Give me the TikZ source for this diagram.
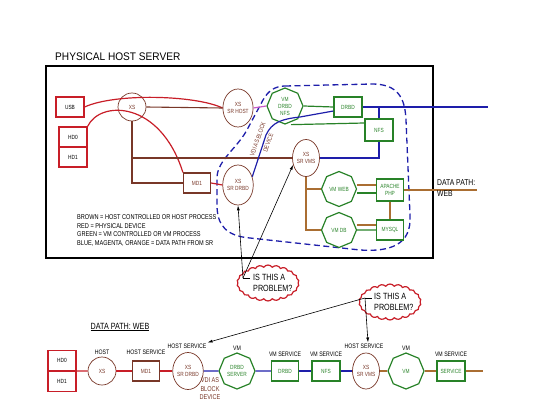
\documentclass[tikz,border=0pt]{standalone}
\usepackage{fontspec}
\setmainfont{Liberation Sans}
\newfontfamily\cond{Liberation Sans}[FakeStretch=0.8]
\newfontfamily\titlef{Liberation Sans}[FakeStretch=0.92]
\usetikzlibrary{shapes.geometric,shapes.symbols,arrows.meta}
\definecolor{cred}{RGB}{200,30,40}
\definecolor{cbrown}{RGB}{120,55,40}
\definecolor{corange}{RGB}{170,110,50}
\definecolor{cgreen}{RGB}{40,130,40}
\definecolor{cblue}{RGB}{30,30,170}
\definecolor{cmag}{RGB}{200,90,200}
\tikzset{
 nbase/.style={inner sep=0pt, font=\cond\fontsize{6}{7}\selectfont, align=center},
 redbox/.style={nbase, draw=cred, line width=1.2pt, minimum width=28pt, minimum height=20pt},
 brbox/.style={nbase, draw=cbrown, line width=1.2pt, minimum width=27pt, minimum height=20pt, text=cbrown},
 grbox/.style={nbase, draw=cgreen, line width=1.2pt, minimum width=28pt, minimum height=20pt, text=cgreen},
 xscirc/.style={nbase, circle, draw=cbrown, line width=0.7pt, minimum size=28pt, text=cbrown},
 xsell/.style={nbase, ellipse, draw=cbrown, line width=0.7pt, minimum width=27pt, minimum height=38pt, text=cbrown},
 oct/.style={nbase, regular polygon, regular polygon sides=8, shape border rotate=22.5, draw=cgreen, line width=1.2pt, minimum size=36pt, text=cgreen},
 lbl/.style={inner sep=0pt, font=\cond\fontsize{6.5}{7.5}\selectfont},
 redline/.style={draw=cred, line width=1.2pt},
 brline/.style={draw=cbrown, line width=1.1pt},
 orline/.style={draw=corange, line width=1.2pt},
 grline/.style={draw=cgreen, line width=1.2pt},
 blline/.style={draw=cblue, line width=1.2pt},
 magline/.style={draw=cmag, line width=1.2pt},
 dashline/.style={draw=cblue, line width=1.3pt, dash pattern=on 6pt off 3.5pt},
 arrline/.style={draw=black, line width=0.6pt, -{Latex[length=5pt,width=3pt]}},
 cloudst/.style={cloud, cloud puffs=22, cloud puff arc=110, cloud ignores aspect, draw=cred, line width=1.2pt, minimum width=62pt, minimum height=36pt, inner sep=0pt},
 qtext/.style={inner sep=0pt, align=left, font=\cond\fontsize{9}{10.5}\selectfont},
}
\begin{document}
\begin{tikzpicture}[x=1pt,y=-1pt]
\useasboundingbox (0,0) rectangle (540,417);
% title and frame
\node[anchor=base west, inner sep=0pt, font=\titlef\fontsize{11}{13}\selectfont] (title) at (55,61) {PHYSICAL HOST SERVER};
\node[draw=black, line width=1.6pt, minimum width=387pt, minimum height=192pt, inner sep=0pt] (host) at (239.5,162) {};

% dashed VM region
\draw[dashline] (285,86) -- (372,84) .. controls (398,84) and (405,98) .. (406,120) -- (410,215) .. controls (412,245) and (390,252) .. (360,250) -- (250,238) .. controls (226,236) and (217,225) .. (217,205) -- (217,178) .. controls (217,160) and (238,148) .. (248,128) -- (263,100) .. controls (268,91) and (275,86) .. (285,86);

% top nodes
\node[redbox] (usb) at (70,107) {\color{black}USB};
\node[redbox] (hd0) at (73,137) {\color{black}HD0};
\node[redbox] (hd1) at (73,157) {\color{black}HD1};
\node[xscirc] (xs) at (132,107) {XS};
\node[brbox] (md1) at (197,183) {MD1};
\node[xsell] (srhost) at (238,108) {XS\\SR HOST};
\node[xsell, minimum height=40pt] (srdrbd) at (238,185) {XS\\SR DRBD};
\node[xsell, minimum height=37pt] (srvms) at (306,158) {XS\\SR VMS};
\node[oct] (vmdrbd) at (285,106) {VM\\DRBD\\NFS};
\node[grbox] (drbd) at (348,107) {DRBD};
\node[grbox, minimum height=22pt] (nfs) at (379,130) {NFS};
\node[oct, minimum size=35pt] (vmweb) at (339,189) {VM WEB};
\node[oct, minimum size=35pt] (vmdb) at (339,230) {VM DB};
\node[grbox, minimum width=27pt, minimum height=22pt] (apache) at (390,190) {APACHE\\PHP};
\node[grbox, minimum width=27pt] (mysql) at (390,230) {MYSQL};

\coordinate (j1) at (132,158);
\coordinate (bout) at (488,107);
\coordinate (dpout) at (477,190);

% top connectors
\draw[redline] (usb.east) .. controls (115,93) and (195,95) .. (srhost.west);
\draw[brline] (xs.east) -- (srhost.west);
\draw[redline] (hd0.north east) .. controls (100,100) and (160,100) .. (md1.north west);
\draw[brline] (xs.south) |- (md1.west);
\draw[brline] (j1) -- (srvms.west);
\draw[redline] (md1.east) -- (srdrbd.west);
\draw[magline] (srhost.east) -- (vmdrbd.west);
\draw[grline] (vmdrbd.east) -- (drbd.west);
\draw[grline] ([xshift=6pt]vmdrbd.south) -- ([yshift=7pt]nfs.west);
\draw[blline] (drbd.east) -- (bout);
\draw[blline] (nfs.north) -- (nfs.north |- drbd.east);
\draw[blline] (nfs.south) |- (srvms.east);
\draw[blline] (srdrbd.30) -- (266,135) .. controls (272,122) and (282,119) .. (300,117) -- ([yshift=-4pt]drbd.west);
\node[rotate=70, text=cbrown, align=center, inner sep=0pt, font=\cond\fontsize{6.3}{11}\selectfont] (vdi) at (263,141) {VDI AS BLOCK\\DEVICE};
\draw[orline] (srvms.south) |- (vmdb.west);
\draw[orline] (srvms.south |- vmweb.west) -- (vmweb.west);
\draw[orline] ([yshift=4pt]vmweb.east) -- ([yshift=4pt]vmweb.east -| apache.west);
\draw[grline] ([yshift=-4pt]vmweb.east) -- ([yshift=-4pt]vmweb.east -| apache.west);
\draw[orline] ([yshift=5pt]vmdb.east) -- ([yshift=5pt]vmdb.east -| mysql.west);
\draw[grline] (vmdb.east) -- (mysql.west);
\draw[orline] (apache.south) -- (mysql.north);
\draw[orline] (apache.east) -- (dpout);
\node[anchor=north west, qtext, font=\cond\fontsize{8.5}{11.5}\selectfont] (dpw) at (437,179) {DATA PATH:\\WEB};

% legend
\node[anchor=north west, inner sep=0pt, align=left, font=\cond\fontsize{7}{8.6}\selectfont] (legend) at (77,214.5) {BROWN = HOST CONTROLLED OR HOST PROCESS\\RED = PHYSICAL DEVICE\\GREEN = VM CONTROLLED OR VM PROCESS\\BLUE, MAGENTA, ORANGE = DATA PATH FROM SR};

% callout 1
\node[cloudst] (cl1) at (268,283) {};
\node[anchor=north west, qtext] (q1) at (253,274.5) {IS THIS A\\PROBLEM?};
\coordinate (c1) at (243,278);
\draw[line width=0.6pt] (c1) -- (250,278);
\draw[arrline] (c1) -- (srdrbd.south);
\draw[arrline] (c1) -- (srvms.208);

% bottom row
\node[anchor=base, inner sep=0pt, font=\cond\fontsize{9}{10}\selectfont] (dpweb) at (120,329) {\underline{DATA PATH: WEB}};
\node[redbox] (bhd0) at (62,360.5) {\color{black}HD0};
\node[redbox] (bhd1) at (62,381.5) {\color{black}HD1};
\node[xscirc] (bxs) at (102,371) {XS};
\node[lbl] (lhost) at (102,352) {HOST};
\node[brbox] (bmd1) at (146,371) {MD1};
\node[lbl] (lhs0) at (146,352) {HOST SERVICE};
\node[xsell, minimum height=37pt] (bsrdrbd) at (188,371) {XS\\SR DRBD};
\node[lbl] (hs1) at (187,346) {HOST SERVICE};
\node[oct] (bdrbdsrv) at (237,371) {DRBD\\SERVER};
\node[lbl] (lvm1) at (237,348) {VM};
\node[grbox, minimum width=27pt] (bdrbd) at (285,371) {DRBD};
\node[lbl] (lvs1) at (285,354) {VM SERVICE};
\node[grbox] (bnfs) at (326,371) {NFS};
\node[lbl] (lvs2) at (326,354) {VM SERVICE};
\node[xsell, minimum height=36pt] (bsrvms) at (366,371) {XS\\SR VMS};
\node[lbl] (hs2) at (364,346) {HOST SERVICE};
\node[oct] (bvm) at (406,371) {VM};
\node[lbl] (lvm2) at (406,348) {VM};
\node[grbox] (bsvc) at (451,371) {SERVICE};
\node[lbl] (lvs3) at (451,354) {VM SERVICE};
\coordinate (bend) at (483,371);
\node[text=cbrown, align=center, inner sep=0pt, font=\cond\fontsize{7}{8.5}\selectfont] (bvdi) at (210,389) {VDI AS\\BLOCK\\DEVICE};

\draw[redline] (bhd1.north east) -- (bxs.west);
\draw[redline] (bxs.east) -- (bmd1.west);
\draw[redline] (bmd1.east) -- (bsrdrbd.west);
\draw[blline] (bsrdrbd.east) -- (bdrbdsrv.west);
\draw[blline] (bdrbdsrv.east) -- (bdrbd.west);
\draw[blline] (bdrbd.east) -- (bnfs.west);
\draw[blline] (bnfs.east) -- (bsrvms.west);
\draw[orline] (bsrvms.east) -- (bvm.west);
\draw[orline] (bvm.east) -- (bsvc.west);
\draw[orline] (bsvc.east) -- (bend);

% callout 2
\node[cloudst] (cl2) at (390,302) {};
\node[anchor=north west, qtext] (q2) at (374,293.5) {IS THIS A\\PROBLEM?};
\coordinate (c2) at (365,298);
\draw[line width=0.6pt] (c2) -- (372,298);
\draw[arrline] (c2) -- ([xshift=1pt,yshift=1pt]hs1.north east);
\draw[arrline] (c2) -- ([xshift=4pt,yshift=1pt]hs2.north);
\end{tikzpicture}
\end{document}
